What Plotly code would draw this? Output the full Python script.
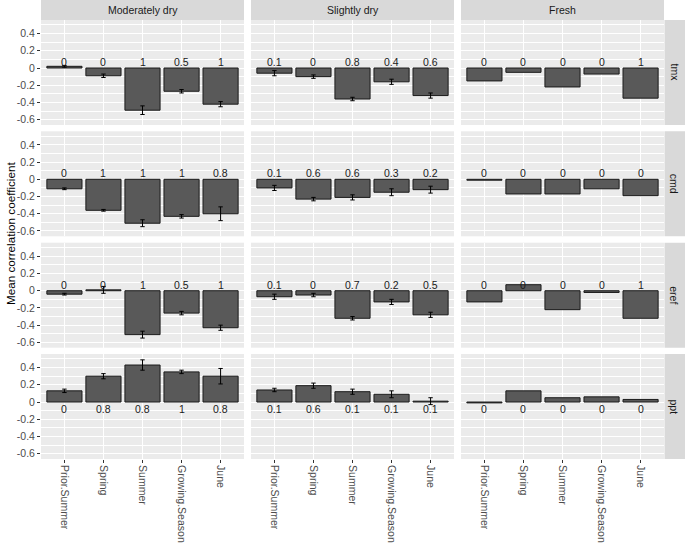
import plotly.graph_objects as go

categories = ["Prior.Summer", "Spring", "Summer", "Growing.Season", "June"]
sites = ["Moderately dry", "Slightly dry", "Fresh"]
variables = ["tmx", "cmd", "eref", "ppt"]

# mean correlation per site (Moderately dry, Slightly dry, Fresh)
tmx_mean = [[0.02, -0.09, -0.49, -0.27, -0.42],
            [-0.06, -0.10, -0.36, -0.16, -0.32],
            [-0.15, -0.05, -0.22, -0.07, -0.35]]
cmd_mean = [[-0.11, -0.36, -0.51, -0.43, -0.40],
            [-0.10, -0.23, -0.21, -0.15, -0.12],
            [-0.01, -0.17, -0.17, -0.11, -0.19]]
eref_mean = [[-0.04, 0.01, -0.51, -0.26, -0.43],
             [-0.07, -0.05, -0.32, -0.13, -0.28],
             [-0.13, 0.07, -0.22, -0.02, -0.32]]
ppt_mean = [[0.13, 0.30, 0.43, 0.35, 0.30],
            [0.14, 0.19, 0.12, 0.09, 0.01],
            [-0.01, 0.13, 0.05, 0.06, 0.03]]

# standard errors (Fresh has none)
tmx_se = [[0.01, 0.02, 0.05, 0.02, 0.03],
          [0.03, 0.02, 0.02, 0.03, 0.03],
          None]
cmd_se = [[0.01, 0.01, 0.04, 0.02, 0.08],
          [0.03, 0.02, 0.03, 0.04, 0.04],
          None]
eref_se = [[0.01, 0.04, 0.04, 0.02, 0.03],
           [0.03, 0.02, 0.02, 0.03, 0.03],
           None]
ppt_se = [[0.02, 0.03, 0.06, 0.02, 0.09],
          [0.02, 0.03, 0.03, 0.04, 0.04],
          None]

# proportion labels
tmx_lab = [["0", "0", "1", "0.5", "1"], ["0.1", "0", "0.8", "0.4", "0.6"], ["0", "0", "0", "0", "1"]]
cmd_lab = [["0", "1", "1", "1", "0.8"], ["0.1", "0.6", "0.6", "0.3", "0.2"], ["0", "0", "0", "0", "0"]]
eref_lab = [["0", "0", "1", "0.5", "1"], ["0.1", "0", "0.7", "0.2", "0.5"], ["0", "0", "0", "0", "1"]]
ppt_lab = [["0", "0.8", "0.8", "1", "0.8"], ["0.1", "0.6", "0.1", "0.1", "0.1"], ["0", "0", "0", "0", "0"]]

y_ticks = [-0.6, -0.4, -0.2, 0, 0.2, 0.4]
y_ticktext = ["-0.6", "-0.4", "-0.2", "0", "0.2", "0.4"]
y_minor = [-0.5, -0.3, -0.1, 0.1, 0.3, 0.5]

means = [tmx_mean, cmd_mean, eref_mean, ppt_mean]
ses = [tmx_se, cmd_se, eref_se, ppt_se]
labs = [tmx_lab, cmd_lab, eref_lab, ppt_lab]

W, H = 685, 545
col_left = [41, 251, 461]
col_w = 203
row_top = [20, 131.3, 242.7, 354]
row_h = 105
font = "Liberation Sans, Arial, sans-serif"

fig = go.Figure()
layout = dict(
    width=W, height=H, margin=dict(l=0, r=0, t=0, b=0, pad=0),
    paper_bgcolor="white", plot_bgcolor="#EBEBEB", showlegend=False,
    font=dict(family=font, color="#4D4D4D", size=10.5),
    annotations=[], shapes=[],
)

for r in range(4):
    for c in range(3):
        k = r * 3 + c + 1
        sfx = "" if k == 1 else str(k)
        se = ses[r][c]
        err = dict(type="data", array=se, color="black", thickness=1, width=2.2, visible=se is not None)
        fig.add_trace(go.Bar(
            x=categories, y=means[r][c], width=0.9,
            marker=dict(color="#595959", line=dict(color="#1a1a1a", width=1)),
            error_y=err, xaxis="x" + sfx, yaxis="y" + sfx, hoverinfo="skip",
        ))
        x0 = col_left[c] / W
        x1 = (col_left[c] + col_w) / W
        y1 = 1 - row_top[r] / H
        y0 = 1 - (row_top[r] + row_h) / H
        layout["xaxis" + sfx] = dict(
            domain=[x0, x1], anchor="y" + sfx, type="category",
            categoryorder="array", categoryarray=categories,
            range=[-0.6, 4.6], showgrid=True, gridcolor="white", gridwidth=1.1,
            showticklabels=(r == 3), ticks="outside" if r == 3 else "",
            ticklen=3, tickcolor="#333333", tickangle=90,
            tickfont=dict(size=10.5, color="#4D4D4D"), zeroline=False,
            showline=False, fixedrange=True, automargin=False,
        )
        layout["yaxis" + sfx] = dict(
            domain=[y0, y1], anchor="x" + sfx, range=[-0.662, 0.558],
            tickvals=y_ticks, ticktext=y_ticktext,
            showgrid=True, gridcolor="white", gridwidth=1.1,
            minor=dict(tickvals=y_minor, showgrid=True, gridcolor="white", gridwidth=0.5, ticks=""),
            showticklabels=(c == 0), ticks="outside" if c == 0 else "",
            ticklen=3, tickcolor="#333333",
            tickfont=dict(size=10.5, color="#4D4D4D"), zeroline=False,
            showline=False, fixedrange=True, automargin=False,
        )
        for i, cat in enumerate(categories):
            layout["annotations"].append(dict(
                x=cat, y=0, xref="x" + sfx, yref="y" + sfx,
                text=labs[r][c][i], showarrow=False,
                yanchor="top" if r == 3 else "bottom",
                yshift=1 if r == 3 else -2,
                font=dict(size=10.5, color="#1a1a1a", family=font),
            ))

# top strips
for c, s in enumerate(sites):
    x0 = col_left[c] / W
    x1 = (col_left[c] + col_w) / W
    layout["shapes"].append(dict(type="rect", xref="paper", yref="paper",
                                 x0=x0, x1=x1, y0=1 - 20 / H, y1=1,
                                 fillcolor="#D9D9D9", line=dict(width=0), layer="below"))
    layout["annotations"].append(dict(x=(x0 + x1) / 2, y=1 - 10 / H, xref="paper", yref="paper",
                                      text=s, showarrow=False, xanchor="center", yanchor="middle",
                                      font=dict(size=10.5, color="#1A1A1A", family=font)))
# right strips
for r, v in enumerate(variables):
    y1 = 1 - row_top[r] / H
    y0 = 1 - (row_top[r] + row_h) / H
    layout["shapes"].append(dict(type="rect", xref="paper", yref="paper",
                                 x0=664.5 / W, x1=1, y0=y0, y1=y1,
                                 fillcolor="#D9D9D9", line=dict(width=0), layer="below"))
    layout["annotations"].append(dict(x=674 / W, y=(y0 + y1) / 2, xref="paper", yref="paper",
                                      text=v, showarrow=False, textangle=90,
                                      xanchor="center", yanchor="middle",
                                      font=dict(size=10.5, color="#1A1A1A", family=font)))

layout["annotations"].append(dict(x=10 / W, y=1 - 234 / H, xref="paper", yref="paper",
                                  text="Mean correlation coefficient", showarrow=False,
                                  textangle=-90, xanchor="center", yanchor="middle",
                                  font=dict(size=11.7, color="black", family=font)))

fig.update_layout(**layout)
fig.write_html("out.html", config={"displayModeBar": False},
               post_script="document.body.style.margin='0';document.documentElement.style.overflow='hidden';")
